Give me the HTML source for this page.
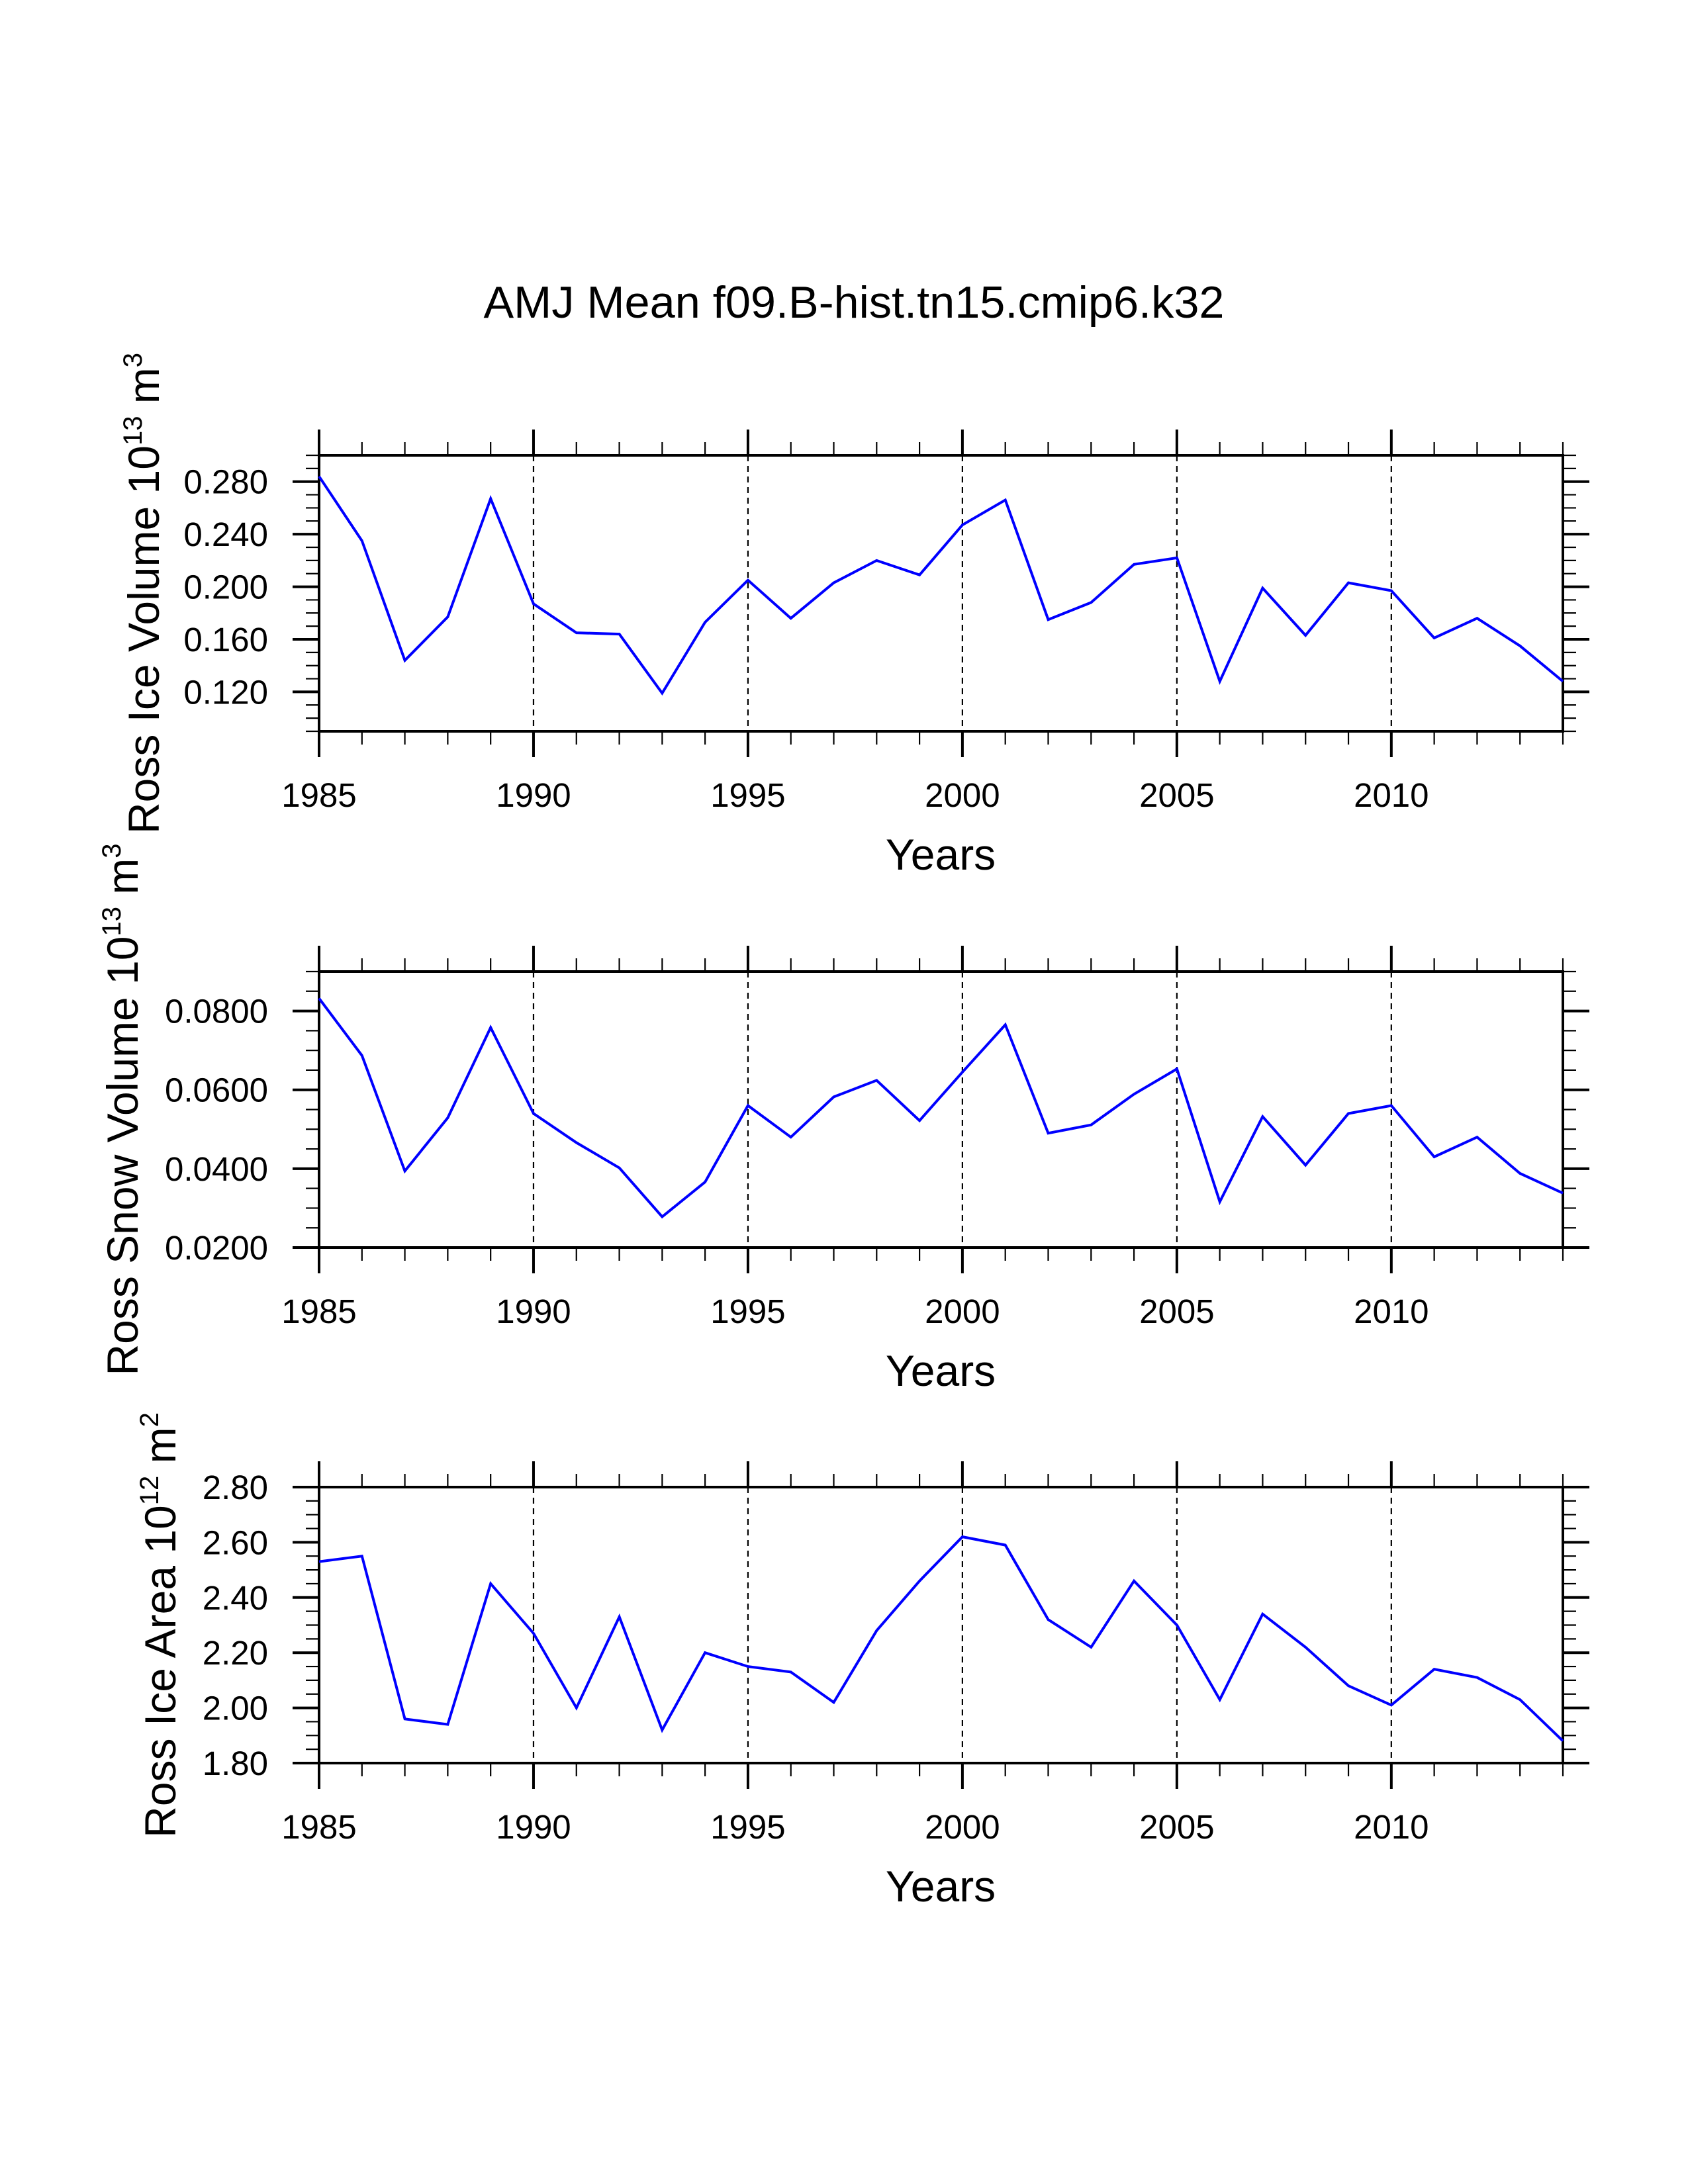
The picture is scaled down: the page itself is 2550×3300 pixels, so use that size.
<!DOCTYPE html>
<html><head><meta charset="utf-8">
<style>
html,body{margin:0;padding:0;background:#fff;}
svg{display:block;}
text{font-family:"Liberation Sans",Arial,sans-serif;fill:#000;}
</style></head>
<body>
<svg id="fig" width="2550" height="3300" viewBox="0 0 2550 3300" xmlns="http://www.w3.org/2000/svg">
<rect width="2550" height="3300" fill="#fff"/>
<text x="1290" y="480" font-size="68" text-anchor="middle" textLength="1119" lengthAdjust="spacingAndGlyphs">AMJ Mean f09.B-hist.tn15.cmip6.k32</text>
</svg>
<script>
const years = [1985,1986,1987,1988,1989,1990,1991,1992,1993,1994,1995,1996,1997,1998,1999,2000,2001,2002,2003,2004,2005,2006,2007,2008,2009,2010,2011,2012,2013,2014];
const iceVolume = [0.284,0.235,0.144,0.177,0.267,0.187,0.165,0.164,0.119,0.173,0.205,0.176,0.203,0.220,0.209,0.247,0.266,0.175,0.188,0.217,0.222,0.128,0.199,0.163,0.203,0.197,0.161,0.176,0.155,0.128];
const snowVolume = [0.0832,0.0687,0.0394,0.0529,0.0758,0.0540,0.0466,0.0402,0.0278,0.0366,0.0560,0.0480,0.0582,0.0624,0.0522,0.0645,0.0765,0.0490,0.0511,0.0589,0.0653,0.0316,0.0532,0.0409,0.0540,0.0560,0.0430,0.0480,0.0388,0.0338];
const iceArea = [2.53,2.55,1.96,1.94,2.45,2.27,2.00,2.33,1.92,2.20,2.15,2.13,2.02,2.28,2.46,2.62,2.59,2.32,2.22,2.46,2.30,2.03,2.34,2.22,2.08,2.01,2.14,2.11,2.03,1.88];
const xTickLabels = ["1985","1990","1995","2000","2005","2010"];
const iceVolumeTicks = ["0.120","0.160","0.200","0.240","0.280"];
const snowVolumeTicks = ["0.0200","0.0400","0.0600","0.0800"];
const iceAreaTicks = ["1.80","2.00","2.20","2.40","2.60","2.80"];

const NS = "http://www.w3.org/2000/svg";
const svg = document.getElementById('fig');
const X0 = 482, X1 = 2361, XMIN = 1985, XMAX = 2014;
function xs(v){ return X0 + (v - XMIN) / (XMAX - XMIN) * (X1 - X0); }
function mk(tag, attrs, parent){
  const e = document.createElementNS(NS, tag);
  for (const k in attrs) e.setAttribute(k, attrs[k]);
  (parent || svg).appendChild(e);
  return e;
}

const panels = [
  {key:'ice-volume', top:688, ymin:0.09, ymax:0.30, minor:0.01, ticks:iceVolumeTicks, data:iceVolume,
   title:['Ross Ice Volume 10','13',' m','3'], tx:240},
  {key:'snow-volume', top:1468, ymin:0.02, ymax:0.09, minor:0.005, ticks:snowVolumeTicks, data:snowVolume,
   title:['Ross Snow Volume 10','13',' m','3'], tx:208},
  {key:'ice-area', top:2247, ymin:1.80, ymax:2.80, minor:0.05, ticks:iceAreaTicks, data:iceArea,
   title:['Ross Ice Area 10','12',' m','2'], tx:265}
];
const H = 417;

panels.forEach(p => {
  const g = mk('g', {});
  
  
  const bot = p.top + H;
  const ys = v => bot - (v - p.ymin) / (p.ymax - p.ymin) * H;

  // dashed grid lines
  [1990,1995,2000,2005,2010].forEach(yr => {
    const l = mk('line', {x1:xs(yr), x2:xs(yr), y1:p.top, y2:bot, stroke:'#000', 'stroke-width':2.2, 'stroke-dasharray':'9,7'}, g);
    
    
  });

  // x ticks top/bottom
  for (let yr = XMIN; yr <= XMAX; yr++){
    const major = (yr % 5 === 0);
    const len = major ? 39 : 20, w = major ? 4 : 2.2;
    mk('line', {x1:xs(yr), x2:xs(yr), y1:p.top, y2:p.top - len, stroke:'#000', 'stroke-width':w}, g);
    mk('line', {x1:xs(yr), x2:xs(yr), y1:bot, y2:bot + len, stroke:'#000', 'stroke-width':w}, g);
  }
  // y ticks left/right
  const nMinor = Math.round((p.ymax - p.ymin) / p.minor);
  const majorVals = p.ticks.map(Number);
  for (let i = 0; i <= nMinor; i++){
    const v = p.ymin + i * p.minor;
    const major = majorVals.some(m => Math.abs(m - v) < p.minor / 10);
    const len = major ? 40 : 20, w = major ? 4 : 2.2;
    const y = ys(v);
    mk('line', {x1:X0, x2:X0 - len, y1:y, y2:y, stroke:'#000', 'stroke-width':w}, g);
    mk('line', {x1:X1, x2:X1 + len, y1:y, y2:y, stroke:'#000', 'stroke-width':w}, g);
  }
  // y tick labels
  p.ticks.forEach(t => {
    const tx = mk('text', {x:405, y:ys(Number(t)) + 18, 'font-size':51, 'text-anchor':'end'}, g);
    tx.textContent = t;
    
    
  });
  // x tick labels
  xTickLabels.forEach(t => {
    const tx = mk('text', {x:xs(Number(t)), y:bot + 114, 'font-size':51, 'text-anchor':'middle'}, g);
    tx.textContent = t;
    
    
  });
  // frame
  const fr = mk('rect', {x:X0, y:p.top, width:X1 - X0, height:H, fill:'none', stroke:'#000', 'stroke-width':4}, g);
  
  

  // series line
  const pts = years.map((yr, i) => xs(yr).toFixed(1) + ',' + ys(p.data[i]).toFixed(1)).join(' ');
  const pl = mk('polyline', {points:pts, fill:'none', stroke:'#0000ff', 'stroke-width':4, 'stroke-linejoin':'miter'}, g);
  
  

  // x-axis title
  const xt = mk('text', {x:1421, y:bot + 209, 'font-size':66, 'text-anchor':'middle'}, g);
  xt.textContent = 'Years';
  
  

  // y-axis title
  const cy = p.top + H / 2;
  const yt = mk('text', {x:0, y:0, 'font-size':66, 'text-anchor':'middle', transform:'translate(' + p.tx + ',' + cy + ') rotate(-90)'}, g);
  
  
  const s1 = mk('tspan', {}, yt); s1.textContent = p.title[0];
  const s2 = mk('tspan', {dy:-26, 'font-size':40}, yt); s2.textContent = p.title[1];
  const s3 = mk('tspan', {dy:26}, yt); s3.textContent = p.title[2];
  const s4 = mk('tspan', {dy:-26, 'font-size':40}, yt); s4.textContent = p.title[3];
});
</script>
</body></html>
